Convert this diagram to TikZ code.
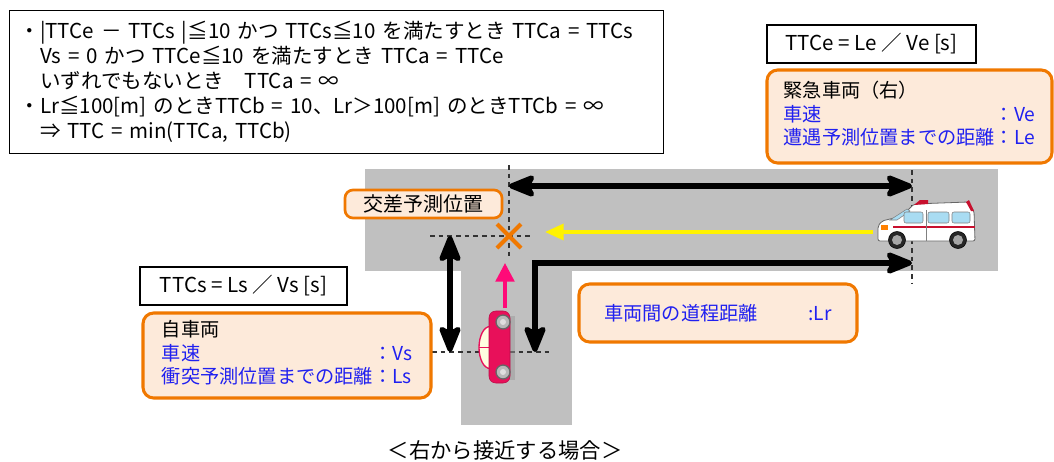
\documentclass[tikz,border=0pt]{standalone}
\usepackage{fontspec}
\setmainfont{Noto Sans CJK JP}
\usepackage{tikz}
\usetikzlibrary{positioning,arrows.meta,calc}
\usepackage{xcolor}

\definecolor{roadgray}{HTML}{C0C0C0}
\definecolor{markorange}{HTML}{F07800}
\definecolor{notefill}{HTML}{FDEADA}
\definecolor{labelblue}{HTML}{2020F0}
\definecolor{carred}{HTML}{E8105A}
\definecolor{headpink}{HTML}{FF0A78}
\definecolor{glassblue}{HTML}{A9DCF2}
\definecolor{siren}{HTML}{C8102E}

\newdimen\px
\px=0.75pt

\begin{document}
\begin{tikzpicture}[x=1\px, y=-1\px, >=Stealth,
    note/.style={draw=markorange, line width=2.3pt, fill=notefill, rounded corners=8pt, inner sep=0pt, font=\fontsize{14.4}{17.5}\selectfont},
    formula/.style={draw, line width=0.9pt, fill=white, inner sep=0pt, font=\fontsize{15.4}{18.75}\selectfont},
    guide/.style={black!80, line width=0.8pt, dash pattern=on 3.5pt off 3pt},
    span/.style={line width=3.8pt, {Stealth[length=24pt,width=19pt,inset=5pt,round]}-{Stealth[length=24pt,width=19pt,inset=5pt,round]}},
  ]
    \useasboundingbox (0,0) rectangle (1054,461);

    % Road: main street and side street
    \fill[roadgray] (365,169) rectangle (998,271);
    \fill[roadgray] (461,269) rectangle (572,425);

    \coordinate (cross) at (509,236);
    \coordinate (crossTop) at (509,186);
    \coordinate (evTop) at (912,186);
    \coordinate (evBottom) at (912,263);
    \coordinate (ownRight) at (535,352);
    \coordinate (ownLeft) at (450,352);
    \coordinate (crossLeft) at (450,236);

    % Reference lines
    \draw[guide] (509,165) -- (509,256);
    \draw[guide] (430,236) -- (532,236);
    \draw[guide] (912,170) -- (912,284);
    \draw[guide] (432,352) -- (553,352);

    % Distances
    \draw[span] (crossTop) -- (evTop);
    \draw[span] (evBottom) -| (ownRight);
    \draw[span] (crossLeft) -- (ownLeft);

    % Directions of travel
    \draw[yellow, line width=2.6pt, -{Triangle[length=14pt,width=12pt]}] (873,232) -- (545,232);
    \draw[headpink, line width=2.6pt, -{Triangle[length=14pt,width=14pt]}] (505,308) -- (505,263);

    % Predicted crossing point
    \draw[markorange, line width=3pt] ($(cross)+(-12,-12)$) -- ($(cross)+(12,12)$)
                                      ($(cross)+(-12,12)$) -- ($(cross)+(12,-12)$);

    % Own car (top view)
    \fill[black!40, opacity=0.5] (509,316) rectangle (515,380);
    \filldraw[fill=yellow!12, draw=carred, line width=1pt] (490,347.5) ellipse [x radius=11, y radius=21];
    \draw[carred, line width=0.8pt] (479,347.5) -- (490,347.5);
    \filldraw[fill=carred, draw=carred!80!black, rounded corners=5pt] (489,311) rectangle (510,383);
    \filldraw[fill=gray!55, draw=black!60, line width=1pt] (503,322) circle (7) (503,372) circle (7);
    \fill[gray!25] (503,322) circle (3) (503,372) circle (3);

    % Ambulance
    \filldraw[fill=white, draw=black!60, line width=0.6pt, rounded corners=1.5pt]
      (878,241) -- (878,226) -- (882,221) -- (902,216) -- (914,204) -- (968,202) -- (974,211) -- (975,241) -- cycle;
    \fill[siren] (914,205) -- (920,200) -- (928,200) -- (928,204) -- cycle;
    \fill[siren] (966,202) -- (969,200) -- (974,211) -- (971,211) -- cycle;
    \filldraw[fill=glassblue, draw=black!50, line width=0.4pt] (890,220) -- (907,209) -- (910,211) -- (897,220) -- cycle;
    \filldraw[fill=glassblue, draw=black!50, line width=0.4pt, rounded corners=1.5pt] (904,212) rectangle (923,223);
    \filldraw[fill=glassblue, draw=black!50, line width=0.4pt, rounded corners=1.5pt] (928,212) rectangle (949,223);
    \filldraw[fill=glassblue, draw=black!50, line width=0.4pt, rounded corners=1.5pt] (952,212) rectangle (970,223);
    \draw[siren, line width=1.3pt] (893,227) -- (975,227);
    \draw[black!50, line width=0.4pt] (926,210) -- (926,241);
    \fill[orange] (881,225) rectangle (888,230);
    \filldraw[fill=black!85] (897,240) circle (8.5) (958,240) circle (8.5);
    \fill[gray!70] (897,240) circle (5) (958,240) circle (5);

    % Conditions
    \node[formula, anchor=north west, minimum width=654\px, minimum height=143\px, text width=634\px, inner xsep=10\px, align=left] (rules) at (9,10)
      {・|TTCe － TTCs |≦10 かつ TTCs≦10 を満たすとき TTCa = TTCs\\
       \hspace*{1em}Vs = 0 かつ TTCe≦10 を満たすとき TTCa = TTCe\\
       \hspace*{1em}いずれでもないとき\quad TTCa = ∞\\
       ・Lr≦100[m] のときTTCb = 10、Lr＞100[m] のときTTCb = ∞\\
       \hspace*{1em}⇒ TTC = min(TTCa, TTCb)};

    \node[formula, minimum width=209\px, minimum height=38\px] (ttce) at (871.5,44) {TTCe = Le ／ Ve [s]};
    \node[formula, minimum width=207\px, minimum height=38\px] (ttcs) at (243.5,286) {TTCs = Ls ／ Vs [s]};

    % Vehicle notes
    \node[note, minimum width=285\px, minimum height=93\px] (emergency) at (909.5,116.5)
      {\begin{tabular}{@{}l@{}l@{}}
         \multicolumn{2}{@{}l@{}}{緊急車両（右）}\\
         \textcolor{labelblue}{車速} & \textcolor{labelblue}{：Ve}\\
         \textcolor{labelblue}{遭遇予測位置までの距離} & \textcolor{labelblue}{：Le}
       \end{tabular}};
    \node[note, minimum width=288\px, minimum height=85\px] (own) at (287,355.5)
      {\begin{tabular}{@{}l@{}l@{}}
         \multicolumn{2}{@{}l@{}}{自車両}\\
         \textcolor{labelblue}{車速} & \textcolor{labelblue}{：Vs}\\
         \textcolor{labelblue}{衝突予測位置までの距離} & \textcolor{labelblue}{：Ls}
       \end{tabular}};
    \node[note, minimum width=278\px, minimum height=58\px, text=labelblue] (route) at (718,313)
      {車両間の道程距離\hspace{38pt}:Lr};
    \node[note, line width=2pt, rounded corners=6pt, minimum width=157\px, minimum height=28\px, font=\fontsize{15}{18}\selectfont] (crossing) at (423.5,204) {交差予測位置};

    \node[font=\fontsize{16}{19}\selectfont] (caption) at (505,450) {＜右から接近する場合＞};
\end{tikzpicture}
\end{document}
